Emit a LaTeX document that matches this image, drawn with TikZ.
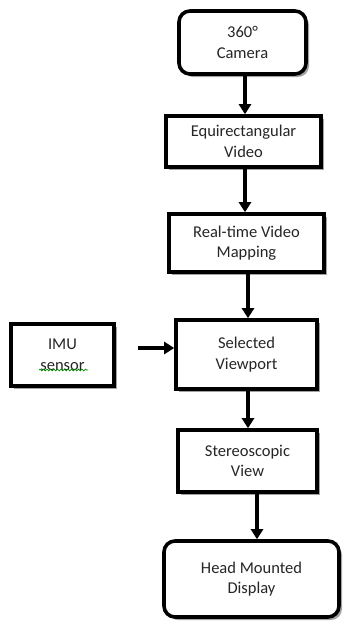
\documentclass[tikz,border=0pt]{standalone}
\usepackage{fontspec}
\setmainfont{Carlito}
\usetikzlibrary{arrows.meta,shadows,decorations.pathmorphing}
\begin{document}
\begin{tikzpicture}[x=1pt,y=-1pt,
  box/.style={draw=black,line width=3.6pt,fill=white,align=center,
    font=\fontsize{16.5}{20.5}\selectfont,text=black!85,
    drop shadow={shadow xshift=3pt,shadow yshift=-3pt,fill=black!45,opacity=0.8}},
  roundbox/.style={box,rounded corners=11pt},
  flow/.style={line width=3.6pt,-{Triangle[width=12pt,length=10pt]}}]
\useasboundingbox (0,0) rectangle (344,622);
\node[roundbox,minimum width=127pt,minimum height=63pt] (cam) at (242.5,42.5) {360°\\Camera};
\node[box,minimum width=155pt,minimum height=51pt] (equi) at (243.5,141.5) {Equirectangular\\Video};
\node[box,minimum width=155pt,minimum height=58pt] (map) at (246.5,243) {Real-time Video\\Mapping};
\node[box,minimum width=141pt,minimum height=69pt] (sel) at (246.5,354.5) {Selected\\Viewport};
\node[box,minimum width=103pt,minimum height=62pt] (imu) at (62.5,355) {IMU\\sensor};
\node[box,minimum width=139pt,minimum height=62pt] (ster) at (247.5,461) {Stereoscopic\\View};
\node[roundbox,minimum width=175pt,minimum height=76pt] (hmd) at (251.5,579) {Head Mounted\\Display};
% spell-check underline beneath "sensor"
\coordinate (sqa) at (39,370);
\coordinate (sqb) at (88,370);
\draw[green!55!black,line width=0.7pt,decorate,decoration={snake,amplitude=0.9pt,segment length=3.5pt}] (sqa) -- (sqb);
% connectors
\draw[flow] (cam.south -| 245,0) -- (equi.north -| 245,0);
\draw[flow] (equi.south -| 245,0) -- (map.north -| 245,0);
\draw[flow] (map.south -| 248,0) -- (sel.north -| 248,0);
\draw[flow] (sel.south -| 248,0) -- (ster.north -| 248,0);
\draw[flow] (ster.south -| 257,0) -- (hmd.north -| 257,0);
\coordinate (imuout) at (138,348);
\draw[flow] (imuout) -- (sel.west |- imuout);
\end{tikzpicture}
\end{document}
